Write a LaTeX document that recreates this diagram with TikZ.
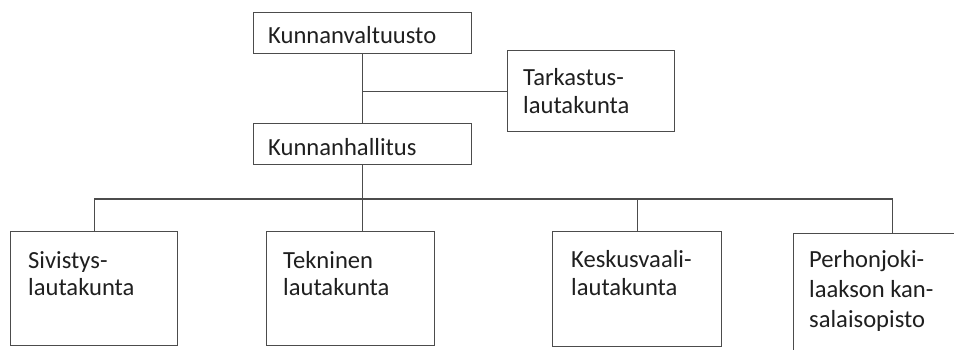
\documentclass[tikz,border=0pt]{standalone}
\usepackage{fontspec}
\setmainfont{Carlito}
\begin{document}
\begin{tikzpicture}[x=1pt,y=-1pt,
  box/.style={draw=black!70, line width=1.3pt, rectangle, inner sep=0pt, anchor=north west},
  conn/.style={draw=black!70, line width=1.2pt},
  lbl/.style={anchor=base west, inner sep=0pt, text=black!88, font=\fontsize{24.6}{28}\selectfont}]
\useasboundingbox (0,0) rectangle (954,349);
\fill[white] (0,0) rectangle (954,349);
\clip (0,0) rectangle (954,349);
% boxes
\node[box, minimum width=218pt, minimum height=41pt] (kv) at (253,12) {};
\node[box, minimum width=167pt, minimum height=81pt] (tk) at (507,50) {};
\node[box, minimum width=218pt, minimum height=41pt] (kh) at (253,123) {};
\node[box, minimum width=167pt, minimum height=114pt] (sv) at (10,231) {};
\node[box, minimum width=168pt, minimum height=114pt] (te) at (266,231) {};
\node[box, minimum width=169pt, minimum height=115pt] (ks) at (552,231) {};
\node[box, minimum width=198pt, minimum height=140pt] (pj) at (793,233) {};
% texts
\node[lbl] (kvt) at (268,43) {Kunnanvaltuusto};
\node[lbl] (tkt) at (523,85) {\vtop{\baselineskip=28pt\hbox{Tarkastus-}\hbox{lautakunta}}};
\node[lbl] (kht) at (268,155) {Kunnanhallitus};
\node[lbl] (svt) at (28,268) {\vtop{\baselineskip=27.5pt\hbox{Sivistys-}\hbox{lautakunta}}};
\node[lbl] (tet) at (283,268) {\vtop{\baselineskip=27.5pt\hbox{Tekninen}\hbox{lautakunta}}};
\node[lbl] (kst) at (571,267) {\vtop{\baselineskip=28pt\hbox{Keskusvaali-}\hbox{lautakunta}}};
\node[lbl] (pjt) at (809,267) {\vtop{\baselineskip=30pt\hbox{Perhonjoki-}\hbox{laakson kan-}\hbox{salaisopisto}}};
% connectors
\coordinate (bus) at (362,199);
\draw[conn] (kv.south) -- (kh.north);
\draw[conn] (kv.south |- tk.west) -- (tk.west);
\draw[conn] (kh.south) -- (kh.south |- te.north);
\draw[conn] (sv.north) -- (sv.north |- bus) -- (pj.north |- bus) -- (pj.north);
\draw[conn] (ks.north) -- (ks.north |- bus);
\end{tikzpicture}
\end{document}
